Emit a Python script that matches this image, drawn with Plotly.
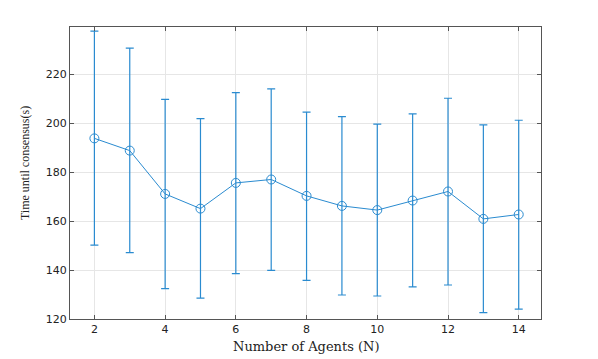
import plotly.graph_objects as go

agents = [2, 3, 4, 5, 6, 7, 8, 9, 10, 11, 12, 13, 14]
mean_time = [193.8, 188.8, 171.1, 165.1, 175.6, 177.0, 170.3, 166.2, 164.5, 168.4, 172.1, 160.9, 162.7]
upper = [237.6, 230.7, 209.7, 201.9, 212.5, 214.0, 204.5, 202.7, 199.6, 203.8, 210.2, 199.3, 201.2]
lower = [150.2, 147.1, 132.4, 128.5, 138.5, 139.9, 135.8, 129.8, 129.4, 133.1, 133.9, 122.6, 124.0]

err_plus = [u - m for u, m in zip(upper, mean_time)]
err_minus = [m - l for m, l in zip(mean_time, lower)]

color = "#2a8bd0"

fig = go.Figure()
fig.add_trace(go.Scatter(
    x=agents, y=mean_time, mode="lines+markers",
    line=dict(color=color, width=1),
    marker=dict(symbol="circle-open", size=9, color=color, line=dict(width=1, color=color)),
    error_y=dict(type="data", symmetric=False, array=err_plus, arrayminus=err_minus,
                 color=color, thickness=1.2, width=4),
    showlegend=False,
))

axis_common = dict(
    showline=True, linecolor="#555555", linewidth=1, mirror="ticks",
    ticks="inside", ticklen=4, tickcolor="#555555",
    showgrid=True, gridcolor="#e6e6e6", gridwidth=1, zeroline=False,
    automargin=False,
    tickfont=dict(family="DejaVu Sans, sans-serif", size=11, color="#222222"),
)

fig.update_layout(
    width=590, height=351,
    margin=dict(l=62, r=57, t=19, b=40),
    paper_bgcolor="white", plot_bgcolor="white",
    xaxis=dict(range=[1.31, 14.63], tickvals=[2, 4, 6, 8, 10, 12, 14], **axis_common),
    yaxis=dict(range=[120, 239.3], tickvals=[120, 140, 160, 180, 200, 220], **axis_common),
    annotations=[
        dict(text="Number of Agents (N)", xref="paper", yref="paper", x=0.503, y=-0.0600,
             xanchor="center", yanchor="top", showarrow=False,
             font=dict(family="DejaVu Serif, serif", size=13, color="#222222")),
        dict(text="Time until consensus(s)", xref="paper", yref="paper", x=-0.0955, y=0.534,
             xanchor="center", yanchor="middle", showarrow=False, textangle=-90,
             font=dict(family="Liberation Serif, Times New Roman, serif", size=12, color="#222222")),
    ],
)

fig.write_html("out.html")
